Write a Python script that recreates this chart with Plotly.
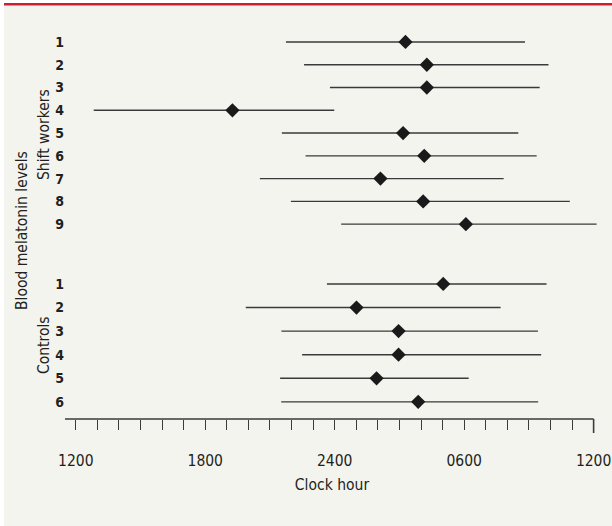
import plotly.graph_objects as go

# ---------------- data (hours after 12:00 noon) ----------------
shift_labels = ["1", "2", "3", "4", "5", "6", "7", "8", "9"]
shift_start = [9.74, 10.58, 11.78, 0.83, 9.55, 10.65, 8.53, 9.97, 12.30]
shift_mid = [15.28, 16.27, 16.27, 7.26, 15.17, 16.15, 14.12, 16.10, 18.08]
shift_end = [20.82, 21.91, 21.50, 11.98, 20.51, 21.36, 19.83, 22.90, 24.14]

ctrl_labels = ["1", "2", "3", "4", "5", "6"]
ctrl_start = [11.64, 7.88, 9.53, 10.49, 9.47, 9.52]
ctrl_mid = [17.03, 13.01, 14.96, 14.96, 13.94, 15.87]
ctrl_end = [21.82, 19.69, 21.42, 21.57, 18.21, 21.43]

hour_ticks = [0, 6, 12, 18, 24]
hour_labels = ["1200", "1800", "2400", "0600", "1200"]

# ---------------- layout helpers ----------------
W, H = 612, 526
L, R, T, B = 65, 13, 30, 107
PW, PH = W - L - R, H - T - B
FONT = "'Liberation Sans Narrow', 'DejaVu Sans Condensed', 'Arial Narrow', sans-serif"
INK = "#231f20"
LINE = "#3a3a3a"


def px_x(X):
    return (X - L) / PW


def px_y(Y):
    return (H - B - Y) / PH


# row positions
shift_y = [i * 0.99 for i in range(len(shift_labels))]
ctrl_y = [10.52 + j * 1.025 for j in range(len(ctrl_labels))]
all_y = shift_y + ctrl_y
all_start = shift_start + ctrl_start
all_mid = shift_mid + ctrl_mid
all_end = shift_end + ctrl_end
all_labels = shift_labels + ctrl_labels

lx, ly = [], []
for s, e, y in zip(all_start, all_end, all_y):
    lx += [s, e, None]
    ly += [y, y, None]

fig = go.Figure()
fig.add_trace(go.Scatter(x=lx, y=ly, mode="lines",
                         line=dict(color=LINE, width=1.4),
                         hoverinfo="skip", showlegend=False))
fig.add_trace(go.Scatter(x=all_mid, y=all_y, mode="markers",
                         marker=dict(symbol="diamond", size=11, color="#1a1a1a",
                                     line=dict(width=0)),
                         showlegend=False))

shapes = [
    # panel background
    dict(type="rect", xref="paper", yref="paper", x0=px_x(4), x1=px_x(W + 2),
         y0=px_y(5), y1=px_y(H + 2), fillcolor="#f4f4ef", line=dict(width=0),
         layer="below"),
    # red top rule
    dict(type="rect", xref="paper", yref="paper", x0=px_x(4), x1=px_x(W + 2),
         y0=px_y(3), y1=px_y(5.5), fillcolor="#cc1f2f", line=dict(width=0),
         layer="below"),
    # axis line
    dict(type="line", xref="x", yref="paper", x0=-0.5, x1=24, y0=0, y1=0,
         line=dict(color=LINE, width=1.4)),
    # long end tick
    dict(type="line", xref="x", yref="paper", x0=24, x1=24, y0=0, y1=-14 / PH,
         line=dict(color=LINE, width=1.6)),
]

annotations = [
    dict(text="Shift workers", xref="paper", yref="paper", x=px_x(44), y=px_y(135),
         textangle=-90, showarrow=False, font=dict(family=FONT, size=15.5, color=INK),
         xanchor="center", yanchor="middle"),
    dict(text="Controls", xref="paper", yref="paper", x=px_x(44), y=px_y(345),
         textangle=-90, showarrow=False, font=dict(family=FONT, size=15.5, color=INK),
         xanchor="center", yanchor="middle"),
    dict(text="Blood melatonin levels", xref="paper", yref="paper", x=px_x(22), y=px_y(231),
         textangle=-90, showarrow=False, font=dict(family=FONT, size=15.5, color=INK),
         xanchor="center", yanchor="middle"),
]

fig.update_layout(
    width=W, height=H,
    margin=dict(l=L, r=R, t=T, b=B, pad=0, autoexpand=False),
    paper_bgcolor="white", plot_bgcolor="rgba(0,0,0,0)",
    font=dict(family=FONT, color=INK),
    shapes=shapes, annotations=annotations,
    xaxis=dict(range=[-0.5, 24.25], tickvals=hour_ticks, ticktext=hour_labels,
               ticks="outside", ticklen=10, tickwidth=1.3, tickcolor=LINE,
               minor=dict(dtick=1, tick0=0, ticks="outside", ticklen=10,
                          tickwidth=1.3, tickcolor=LINE),
               showgrid=False, zeroline=False, showline=False, automargin=False,
               tickfont=dict(family=FONT, size=15.5, color=INK),
               ticklabelstandoff=17, ticklabeloverflow="allow",
               title=dict(text="Clock hour", font=dict(family=FONT, size=15.5, color=INK),
                          standoff=10)),
    yaxis=dict(range=[16.39, -0.52], tickvals=all_y, ticktext=all_labels,
               ticks="", showgrid=False, zeroline=False, showline=False, automargin=False,
               tickfont=dict(family=FONT, size=14, color=INK, weight="bold")),
)

fig.write_html("out.html", config={"displayModeBar": False},
               post_script="document.body.style.margin='0';")
